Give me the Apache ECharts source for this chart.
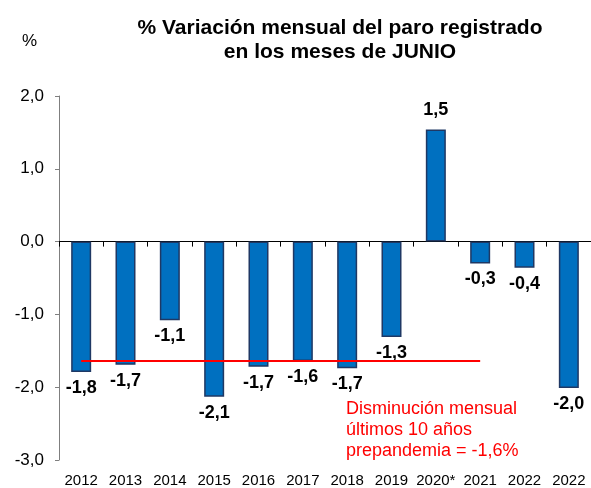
<!DOCTYPE html>
<html>
<head>
<meta charset="utf-8">
<script src="https://cdn.jsdelivr.net/npm/echarts@6/dist/echarts.min.js"></script>
<style>
html, body { margin: 0; padding: 0; background: #fff; }
#chart { width: 591px; height: 488px; }
</style>
</head>
<body>
<div id="chart"></div>
<script>
// datos
const years = ['2012', '2013', '2014', '2015', '2016', '2017', '2018', '2019', '2020*', '2021', '2022', '2022']
const variacion = [-1.79, -1.69, -1.08, -2.13, -1.72, -1.64, -1.74, -1.31, 1.54, -0.30, -0.36, -2.01]
const mediaPrepandemia = -1.64
const yTicks = [-3, -2, -1, 0, 1, 2]

const fmt = function(v) { return v.toFixed(1).replace('.', ',') }

const myChart = echarts.init(document.getElementById('chart'))

let option = {
	animation: false,
	textStyle: { fontFamily: 'Liberation Sans, Arial, sans-serif' },
	title: {
		text: '% Variación mensual del paro registrado\nen los meses de JUNIO',
		left: 335,
		top: 11,
		textAlign: 'center',
		textStyle: { fontSize: 21, fontWeight: 'bold', color: '#000', lineHeight: 24 }
	},
	graphic: [
		{
			type: 'text', left: 22, top: 33,
			style: { text: '%', fontSize: 17, fill: '#000', fontFamily: 'Liberation Sans, Arial' }
		},
		{
			type: 'text', left: 346, top: 399,
			style: {
				text: 'Disminución mensual\núltimos 10 años\nprepandemia = -1,6%',
				fontSize: 18, lineHeight: 21, fill: '#ff0000', fontFamily: 'Liberation Sans, Arial'
			}
		}
	],
	grid: { left: 59, top: 96, width: 536, height: 366 },
	xAxis: [
		{
			type: 'category',
			data: years,
			position: 'bottom',
			axisLine: { show: false, onZero: false },
			axisTick: { show: false },
			axisLabel: { color: '#000', fontSize: 15, margin: 13, interval: 0, hideOverlap: false }
		},
		{
			type: 'category',
			data: years,
			position: 'bottom',
			axisLine: { show: true, onZero: true, lineStyle: { color: '#000', width: 1 } },
			axisTick: { show: true, length: 5, interval: 0, inside: false, lineStyle: { color: '#000' } },
			axisLabel: { show: false }
		}
	],
	yAxis: {
		type: 'value',
		min: yTicks[0],
		max: yTicks[yTicks.length - 1],
		interval: 1,
		axisLine: { show: true, lineStyle: { color: '#7f7f7f' } },
		axisTick: { show: true, length: 4, lineStyle: { color: '#7f7f7f' } },
		splitLine: { show: false },
		axisLabel: { color: '#000', fontSize: 17, margin: 15, formatter: fmt }
	},
	series: [{
		name: 'variacion',
		type: 'bar',
		data: variacion,
		barWidth: 20,
		itemStyle: { color: '#0070c0', borderColor: '#1f3864', borderWidth: 1.5 },
		label: {
			show: true,
			distance: 7,
			color: '#000',
			fontSize: 18,
			fontWeight: 'bold',
			formatter: function(p) { return fmt(p.value) }
		},
		markLine: {
			silent: true,
			symbol: ['none', 'none'],
			label: { show: false },
			lineStyle: { color: '#ff0000', width: 2, type: 'solid' },
			data: [[
				{ coord: [0, mediaPrepandemia] },
				{ coord: [9, mediaPrepandemia] }
			]]
		}
	}]
}

// etiqueta debajo de las barras negativas
option.series[0].data = variacion.map(function(v) {
	return { value: v, label: { position: v < 0 ? 'bottom' : 'top', distance: v < 0 ? 7 : 10 } }
})

myChart.setOption(option)
</script>
</body>
</html>
